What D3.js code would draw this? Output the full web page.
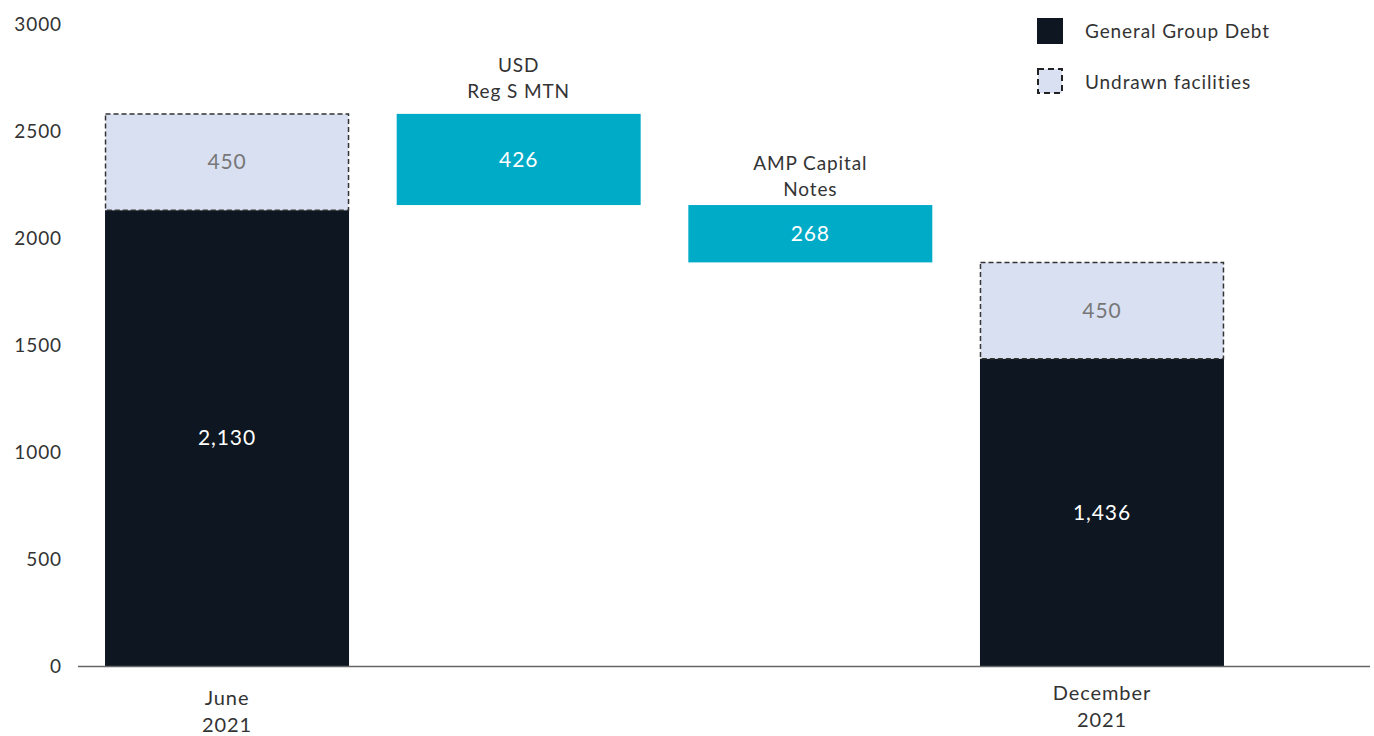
<!DOCTYPE html>
<meta charset="utf-8">
<head>
<title>Group debt waterfall</title>
<script src="https://d3js.org/d3.v7.min.js"></script>
</head>
<style type="text/css">
body { margin: 0; background: #ffffff; }
svg text { font-family: "Lato", "Noto Sans", sans-serif; letter-spacing: 0.9px; }
</style>
<body>
<svg id="chart" width="1374" height="736"></svg>
<script type="text/javascript">
// data
var categories = ["June 2021", "USD Reg S MTN", "AMP Capital Notes", "December 2021"];
var catLabels = [["June", "2021"], [], [], ["December", "2021"]];
var stepLabels = [[], ["USD", "Reg S MTN"], ["AMP Capital", "Notes"], []];
var generalDebt = [2130, null, null, 1436];
var undrawn = [450, null, null, 450];
var reductions = [null, 426, 268, null];
var yTicks = [0, 500, 1000, 1500, 2000, 2500, 3000];
var legendItems = ["General Group Debt", "Undrawn facilities"];

var dark = "#0d1621", light = "#d9e0f2", teal = "#00abc7";

var svg = d3.select("#chart");
var x = d3.scaleBand().domain(categories).range([81.2, 1247.8])
    .paddingInner(0.1634).paddingOuter(0.0817);
var y = d3.scaleLinear().domain([0, 3000]).range([666, 24]);

// y axis labels
svg.append("g").selectAll("text").data(yTicks).enter().append("text")
    .attr("x", 62).attr("y", function(d) { return y(d); })
    .attr("dy", "0.35em").attr("text-anchor", "end")
    .style("font-size", "19px").style("fill", "#333")
    .text(function(d) { return d; });

// running totals for waterfall
var tops = [];
var running = 0;
categories.forEach(function(c, i) {
    if (generalDebt[i] != null) {
        running = generalDebt[i] + undrawn[i];
        tops.push(running);
    } else {
        tops.push(running);
        running = running - reductions[i];
    }
});

var labelGap = [0, 42, 35, 0];
var catTop = [705, 0, 0, 700];

var g = svg.append("g");
categories.forEach(function(c, i) {
    var bx = x(c), bw = x.bandwidth(), cx = bx + bw / 2;
    if (generalDebt[i] != null) {
        g.append("rect").attr("x", bx).attr("width", bw)
            .attr("y", y(generalDebt[i])).attr("height", y(0) - y(generalDebt[i]))
            .attr("fill", dark);
        var top = generalDebt[i] + undrawn[i];
        g.append("rect").attr("x", bx + 0.5).attr("width", bw - 1)
            .attr("y", y(top)).attr("height", y(generalDebt[i]) - y(top))
            .attr("fill", light).attr("stroke", "#333").attr("stroke-width", 1.5)
            .attr("stroke-dasharray", "5,3");
        g.append("text").attr("x", cx).attr("y", y(generalDebt[i] / 2))
            .attr("dy", "0.35em").attr("text-anchor", "middle")
            .style("font-size", "21px").style("fill", "#fff")
            .text(d3.format(",")(generalDebt[i]));
        g.append("text").attr("x", cx).attr("y", y(generalDebt[i] + undrawn[i] / 2))
            .attr("dy", "0.35em").attr("text-anchor", "middle")
            .style("font-size", "21px").style("fill", "#777")
            .text(undrawn[i]);
    } else {
        var t = tops[i], b = tops[i] - reductions[i];
        g.append("rect").attr("x", bx).attr("width", bw)
            .attr("y", y(t)).attr("height", y(b) - y(t)).attr("fill", teal);
        g.append("text").attr("x", cx).attr("y", y((t + b) / 2))
            .attr("dy", "0.35em").attr("text-anchor", "middle")
            .style("font-size", "21px").style("fill", "#fff")
            .text(reductions[i]);
        stepLabels[i].forEach(function(line, k) {
            g.append("text").attr("x", cx).attr("y", y(t) - labelGap[i] + k * 26)
                .attr("text-anchor", "middle")
                .style("font-size", "19px").style("fill", "#333")
                .text(line);
        });
    }
    catLabels[i].forEach(function(line, k) {
        g.append("text").attr("x", cx).attr("y", catTop[i] + k * 27)
            .attr("text-anchor", "middle")
            .style("font-size", "20px").style("fill", "#333")
            .text(line);
    });
});

// baseline
svg.append("line").attr("x1", 78).attr("x2", 1370)
    .attr("y1", y(0) + 0.5).attr("y2", y(0) + 0.5)
    .attr("stroke", "#666").attr("stroke-width", 1.5);

// legend
var leg = svg.append("g").attr("transform", "translate(1037,18)");
leg.append("rect").attr("width", 26).attr("height", 26).attr("fill", dark);
leg.append("rect").attr("x", 1).attr("y", 51).attr("width", 24).attr("height", 24)
    .attr("fill", light).attr("stroke", "#222").attr("stroke-width", 2)
    .attr("stroke-dasharray", "6,4");
legendItems.forEach(function(d, i) {
    leg.append("text").attr("x", 48).attr("y", 13 + i * 51).attr("dy", "0.35em")
        .style("font-size", "19px").style("fill", "#333").text(d);
});
</script>
</body>
